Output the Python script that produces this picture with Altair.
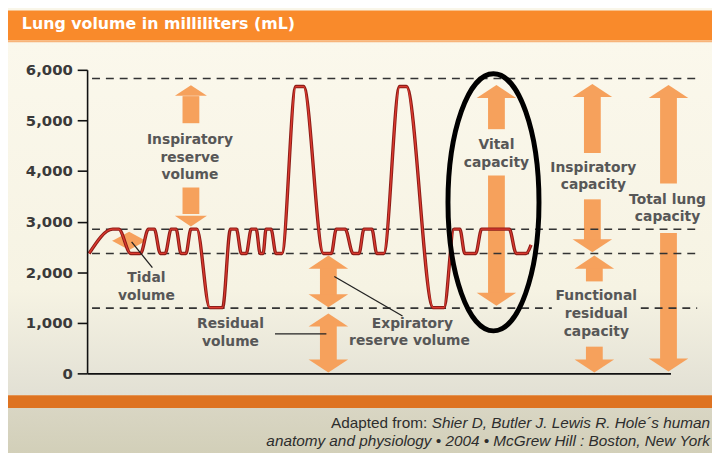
import altair as alt
import pandas as pd

# ---------------- data ----------------
title_text = "Lung volume in milliliters (mL)"
cite_a = "Adapted from:"
cite_b = "Shier D, Butler J. Lewis R. Hole´s human"
cite_c = "anatomy and physiology • 2004 • McGrew Hill : Boston, New York"

# spirogram trace (time units, mL)
trace_t = [0.2, 2.6, 3.2, 4.4, 5.4, 6.2, 6.8, 7.4, 7.9, 8.5, 9.0, 9.5, 10.0, 10.5, 11.1,
           12.4, 13.7, 14.5, 15.1, 15.6, 16.1, 16.6, 17.1, 17.5, 17.8, 18.1, 18.6, 19.1, 19.7,
           21.1, 21.9, 23.9, 24.7, 25.2, 26.1, 26.9, 27.5, 28.0, 28.8, 29.3, 30.0,
           31.6, 32.3, 35.0, 36.1, 37.1, 37.7, 38.2, 39.3, 39.9, 42.7, 43.4, 44.4, 44.9]
trace_v = [2370, 2850, 2850, 2370, 2370, 2850, 2850, 2370, 2370, 2850, 2850, 2370, 2370, 2850, 2850,
           1300, 1300, 2850, 2850, 2370, 2370, 2850, 2850, 2370, 2370, 2850, 2850, 2370, 2370,
           5670, 5670, 2370, 2370, 2850, 2850, 2370, 2370, 2850, 2850, 2370, 2370,
           5670, 5670, 1300, 1300, 2850, 2850, 2370, 2370, 2850, 2850, 2370, 2370, 2540]

# dashed reference levels
level_v = [5830, 2850, 2370, 1290, 1290]
level_t1 = [0.5, 0.5, 0.5, 0.5, 56.0]
level_t2 = [61.7, 61.7, 61.7, 47.0, 61.7]

# arrow shafts
shaft_t = [10.5, 10.5, 24.4, 24.4, 41.4, 41.4, 51.1, 51.1, 51.3, 51.3, 58.8, 58.8]
shaft_v1 = [5480, 3674, 2120, 960, 5450, 3909, 5480, 3440, 2120, 528, 5450, 2775]
shaft_v2 = [4945, 3150, 1540, 240, 4827, 1580, 4358, 2620, 1818, 240, 3752, 280]

# arrow heads (big)
head_up_t = [24.4, 24.4, 41.4, 51.1, 51.3, 58.8]
head_up_v = [2199, 1055, 5570, 5590, 2199, 5570]
head_dn_t = [24.4, 24.4, 41.4, 51.1, 51.3, 58.8]
head_dn_v = [1436, 147, 1466, 2521, 147, 166]
# inspiratory reserve volume heads
irv_up_t, irv_up_v = [10.5], [5590]
irv_dn_t, irv_dn_v = [10.5], [3010]
# tidal volume heads
tid_up_t, tid_up_v = [4.25], [2707]
tid_dn_t, tid_dn_v = [4.25], [2531]

# vital capacity ellipse centre
ell_t, ell_v = [41.1], [3381]

# leader lines
lead_t1 = [4.5, 25.0, 19.0]
lead_v1 = [2599, 1915, 782]
lead_t2 = [6.6, 31.9, 24.2]
lead_v2 = [2091, 1134, 782]

# labels
label_text = ["Inspiratory", "reserve", "volume", "Tidal", "volume", "Residual", "volume",
              "Expiratory", "reserve volume", "Vital", "capacity", "Inspiratory", "capacity",
              "Total lung", "capacity", "Functional", "residual", "capacity"]
label_t = [10.4, 10.4, 10.4, 6.0, 6.0, 14.5, 14.5, 32.9, 32.6, 41.4, 41.4, 51.2, 51.2,
           58.7, 58.7, 51.5, 51.5, 51.5]
label_v = [4612, 4261, 3928, 1876, 1524, 977, 625, 977, 645, 4515, 4163, 4065, 3713,
           3420, 3088, 1524, 1173, 821]

y_ticks = [0, 1000, 2000, 3000, 4000, 5000, 6000]

# ---------------- chart ----------------
ORANGE = "#f6a15c"
xs = alt.Scale(domain=[0, 59], nice=False, zero=False)
ys = alt.Scale(domain=[0, 6000], nice=False)
xaxis = alt.Axis(labels=False, ticks=False, title=None, grid=False, domainColor="#111",
                 domainWidth=1.6, zindex=1)
yaxis = alt.Axis(values=y_ticks, format=",.0f", title=None, grid=False, domainColor="#111",
                 domainWidth=1.6, tickColor="#111", tickWidth=1.6, tickSize=10,
                 labelFont="DejaVu Sans", labelFontSize=15, labelFontWeight="bold",
                 labelColor="#3a3a3a", labelPadding=5, zindex=1)


def X(f):
    return alt.X(f, type="quantitative", scale=xs, axis=xaxis)


def Y(f):
    return alt.Y(f, type="quantitative", scale=ys, axis=yaxis)


one = pd.DataFrame({"k": [0]})

bg = alt.Chart(one).mark_rect(fill=alt.LinearGradient(
    gradient="linear", x1=0, x2=0, y1=0, y2=1,
    stops=[alt.GradientStop(color="#fbf8ec", offset=0),
           alt.GradientStop(color="#f6f3e3", offset=0.7),
           alt.GradientStop(color="#e2e0d4", offset=1)])).encode(
    x=alt.value(-80), x2=alt.value(632), y=alt.value(-28), y2=alt.value(329))
header = alt.Chart(one).mark_rect(color="#f98a2b").encode(
    x=alt.value(-80), x2=alt.value(632), y=alt.value(-60), y2=alt.value(-30))
header_edge = alt.Chart(one).mark_rect(color="#f8b47a").encode(
    x=alt.value(-80), x2=alt.value(632), y=alt.value(-30), y2=alt.value(-28))
foot_band = alt.Chart(one).mark_rect(color="#de7321").encode(
    x=alt.value(-80), x2=alt.value(632), y=alt.value(329), y2=alt.value(342))
foot_bg = alt.Chart(one).mark_rect(fill=alt.LinearGradient(
    gradient="linear", x1=0, x2=0, y1=0, y2=1,
    stops=[alt.GradientStop(color="#d9d6c4", offset=0),
           alt.GradientStop(color="#d2cfb8", offset=1)])).encode(
    x=alt.value(-80), x2=alt.value(632), y=alt.value(342), y2=alt.value(390))
title = alt.Chart(one).mark_text(align="left", baseline="middle", font="DejaVu Sans",
                                 fontSize=16, fontWeight="bold", color="white").encode(
    x=alt.value(-66), y=alt.value(-46), text=alt.value(title_text))
cite1 = alt.Chart(one).mark_text(align="right", baseline="middle", font="Liberation Sans",
                                 fontSize=15.5, color="#2d2d2d").encode(
    x=alt.value(344), y=alt.value(357), text=alt.value(cite_a))
cite2 = alt.Chart(one).mark_text(align="right", baseline="middle", font="Liberation Sans",
                                 fontSize=15.5, fontStyle="italic", color="#2d2d2d").encode(
    x=alt.value(630), y=alt.value(357), text=alt.value(cite_b))
cite3 = alt.Chart(one).mark_text(align="right", baseline="middle", font="Liberation Sans",
                                 fontSize=15.5, fontStyle="italic", color="#2d2d2d").encode(
    x=alt.value(630), y=alt.value(375), text=alt.value(cite_c))

levels = alt.Chart(pd.DataFrame({"t1": level_t1, "t2": level_t2, "v": level_v})).mark_rule(
    color="#333333", strokeWidth=1.6, strokeDash=[8, 6]).encode(x=X("t1"), x2="t2", y=Y("v"))

shafts = alt.Chart(pd.DataFrame({"t": shaft_t, "v1": shaft_v1, "v2": shaft_v2})).mark_rule(
    color=ORANGE, strokeWidth=17, strokeCap="butt").encode(x=X("t"), y=Y("v1"), y2="v2")

UP = "M-1,0.33 L1,0.33 L0,-0.33 Z"
DN = "M-1,-0.33 L1,-0.33 L0,0.33 Z"
UP_S = "M-1,0.27 L1,0.27 L0,-0.27 Z"
DN_S = "M-1,-0.27 L1,-0.27 L0,0.27 Z"


def heads(ts, vs, shape, size):
    return alt.Chart(pd.DataFrame({"t": ts, "v": vs})).mark_point(
        shape=shape, size=size, filled=True, color=ORANGE, opacity=1, strokeWidth=0).encode(
        x=X("t"), y=Y("v"))


h1 = heads(head_up_t, head_up_v, UP, 1600)
h2 = heads(head_dn_t, head_dn_v, DN, 1600)
h3 = heads(irv_up_t, irv_up_v, UP, 1050)
h4 = heads(irv_dn_t, irv_dn_v, DN, 1050)
h5 = heads(tid_up_t, tid_up_v, UP_S, 1190)
h6 = heads(tid_dn_t, tid_dn_v, DN_S, 1190)

tr = pd.DataFrame({"t": trace_t, "v": trace_v})
trace_out = alt.Chart(tr).mark_line(color="#8e1d18", strokeWidth=3.4, interpolate="monotone").encode(
    x=X("t"), y=Y("v"))
trace_in = alt.Chart(tr).mark_line(color="#dc3a2f", strokeWidth=1.3, interpolate="monotone").encode(
    x=X("t"), y=Y("v"))

ellipse = alt.Chart(pd.DataFrame({"t": ell_t, "v": ell_v})).mark_point(
    shape="M0,-1 A0.354,1 0 1,1 0,1 A0.354,1 0 1,1 0,-1 Z", size=67600, filled=False,
    color="black", strokeWidth=5, opacity=1).encode(x=X("t"), y=Y("v"))

leaders = alt.Chart(pd.DataFrame({"t1": lead_t1, "v1": lead_v1, "t2": lead_t2, "v2": lead_v2})).mark_rule(
    color="#222222", strokeWidth=1.3).encode(x=X("t1"), x2="t2", y=Y("v1"), y2="v2")

labels = alt.Chart(pd.DataFrame({"t": label_t, "v": label_v, "s": label_text})).mark_text(
    font="DejaVu Sans", fontSize=14, fontWeight="bold", color="#575757",
    align="center", baseline="middle").encode(x=X("t"), y=Y("v"), text="s:N")

chart = alt.layer(
    bg, header, header_edge, foot_band, foot_bg, title, cite1, cite2, cite3,
    shafts, h1, h2, h3, h4, h5, h6, levels, trace_out, trace_in, ellipse, leaders, labels
).properties(
    width=590, height=307,
    autosize=alt.AutoSizeParams(type="none"),
    padding={"left": 80, "top": 60, "right": 42, "bottom": 78},
    background="#f9f6e9",
).configure_view(stroke=None)

chart.save("out.html", embed_options={"renderer": "svg", "actions": False})
